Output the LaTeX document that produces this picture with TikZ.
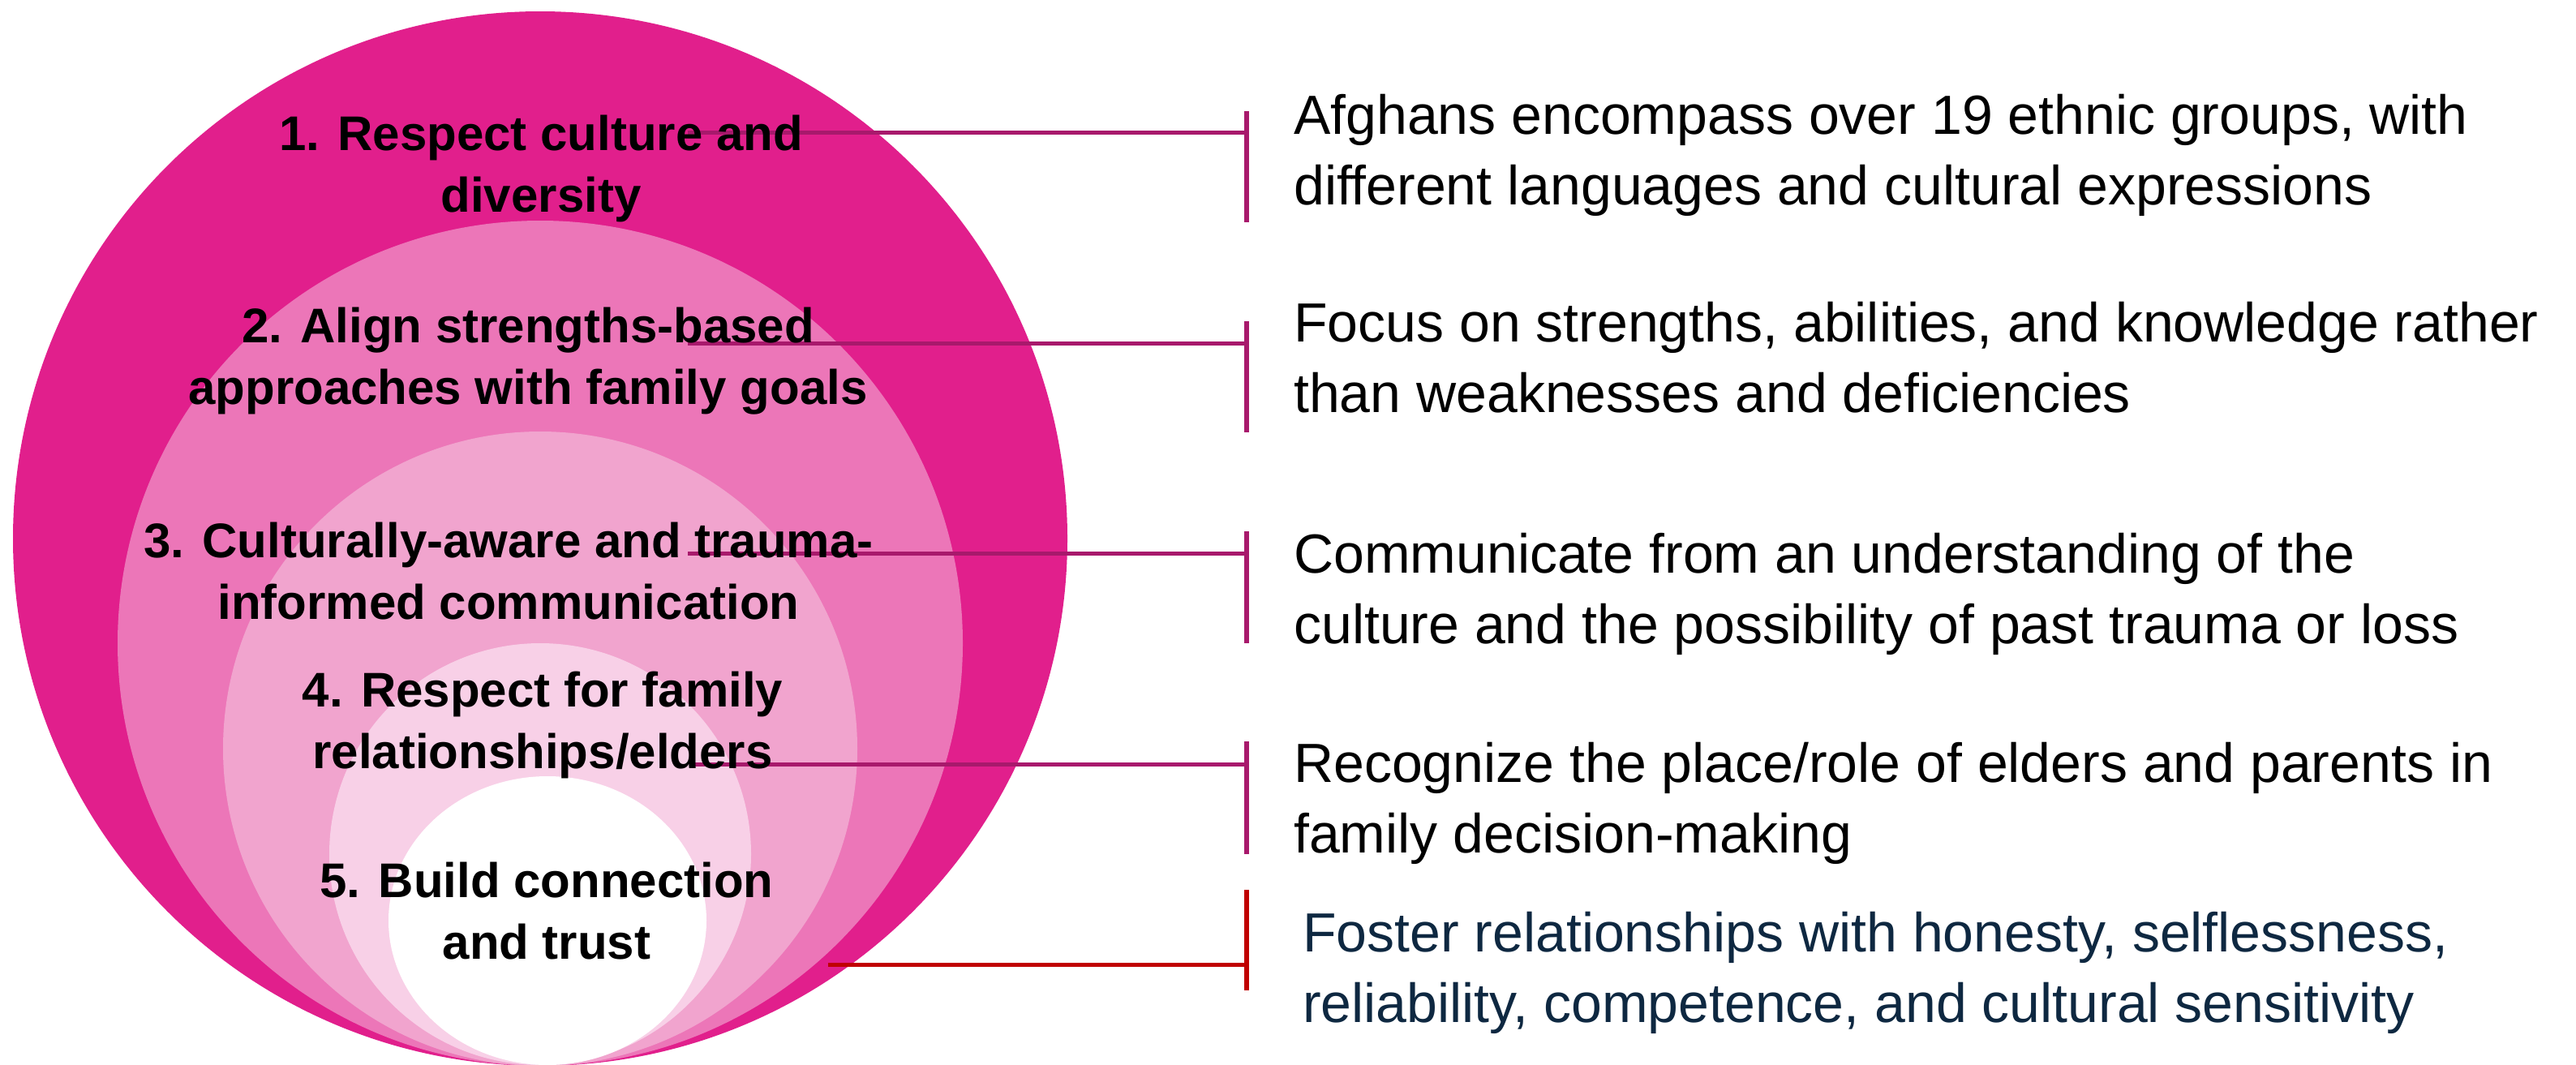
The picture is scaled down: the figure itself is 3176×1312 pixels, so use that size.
\documentclass[tikz,border=0pt]{standalone}
\usepackage{fontspec}
\setmainfont{Liberation Sans}
\usetikzlibrary{shapes.geometric}
\definecolor{ringA}{HTML}{E11F8C}
\definecolor{ringB}{HTML}{EC76B8}
\definecolor{ringC}{HTML}{F1A4CE}
\definecolor{ringD}{HTML}{F8D0E7}
\definecolor{leadcol}{HTML}{A8196C}
\definecolor{leadred}{HTML}{C00000}
\definecolor{navy}{HTML}{0E2841}
\tikzset{
ring/.style={ % Sets the properties for each nested circle
inner sep=0pt,
draw=none},
theme/.style={ % Bold headings inside the circles, placed by their last baseline
align=center,
anchor=base,
inner sep=0pt,
font=\bfseries\fontsize{60}{76}\selectfont},
note/.style={ % Explanations next to the brackets, placed by their last baseline
align=left,
anchor=base west,
inner sep=0pt,
font=\fontsize{68}{87}\selectfont},
lead/.style={ % Horizontal connector to a bracket
draw=leadcol,
line width=5pt},
bar/.style={ % Vertical bracket beside a note
draw=leadcol,
line width=6pt}}

\begin{document}
\begin{tikzpicture}[x=1pt, y=-1pt]
\useasboundingbox (0,0) rectangle (3176,1312);
\node[ring, circle, fill=ringA, minimum size=1300pt] (r1) at (666,664) {};
\node[ring, circle, fill=ringB, minimum size=1042pt] (r2) at (666,793) {};
\node[ring, circle, fill=ringC, minimum size=782pt] (r3) at (666,923) {};
\node[ring, circle, fill=ringD, minimum size=520pt] (r4) at (666,1053) {};
\node[ring, ellipse, fill=white, minimum width=392pt, minimum height=356pt] (r5) at (675,1135) {};
\coordinate (s1) at (848,163);
\coordinate (b1) at (1537,163);
\coordinate (s2) at (848,423);
\coordinate (b2) at (1537,423);
\coordinate (s3) at (848,682);
\coordinate (b3) at (1537,682);
\coordinate (s4) at (850,942);
\coordinate (b4) at (1537,942);
\coordinate (s5) at (1021,1189);
\coordinate (b5) at (1537,1189);
\draw[lead] (s1) -- (b1);
\draw[lead] (s2) -- (b2);
\draw[lead] (s3) -- (b3);
\draw[lead] (s4) -- (b4);
\draw[lead, draw=leadred] (s5) -- (b5);
\draw[bar] (b1) ++(0,-26) -- ++(0,137);
\draw[bar] (b2) ++(0,-27) -- ++(0,137);
\draw[bar] (b3) ++(0,-27) -- ++(0,138);
\draw[bar] (b4) ++(0,-28) -- ++(0,139);
\draw[bar, draw=leadred] (b5) ++(0,-92) -- ++(0,124);
\node[theme] (h1) at (667,261) {1. Respect culture and\\diversity};
\node[theme] (h2) at (651,498) {2. Align strengths-based\\approaches with family goals};
\node[theme] (h3) at (627,763) {3. Culturally-aware and trauma-\\informed communication};
\node[theme] (h4) at (669,947) {4. Respect for family\\relationships/elders};
\node[theme] (h5) at (674,1182) {5. Build connection\\and trust};
\node[note] (n1) at (1595,252) {Afghans encompass over 19 ethnic groups, with\\different languages and cultural expressions};
\node[note] (n2) at (1595,508) {Focus on strengths, abilities, and knowledge rather\\than weaknesses and deficiencies};
\node[note] (n3) at (1595,793) {Communicate from an understanding of the\\culture and the possibility of past trauma or loss};
\node[note] (n4) at (1595,1051) {Recognize the place/role of elders and parents in\\family decision-making};
\node[note, text=navy] (n5) at (1606,1260) {Foster relationships with honesty, selflessness,\\reliability, competence, and cultural sensitivity};
\end{tikzpicture}
\end{document}
